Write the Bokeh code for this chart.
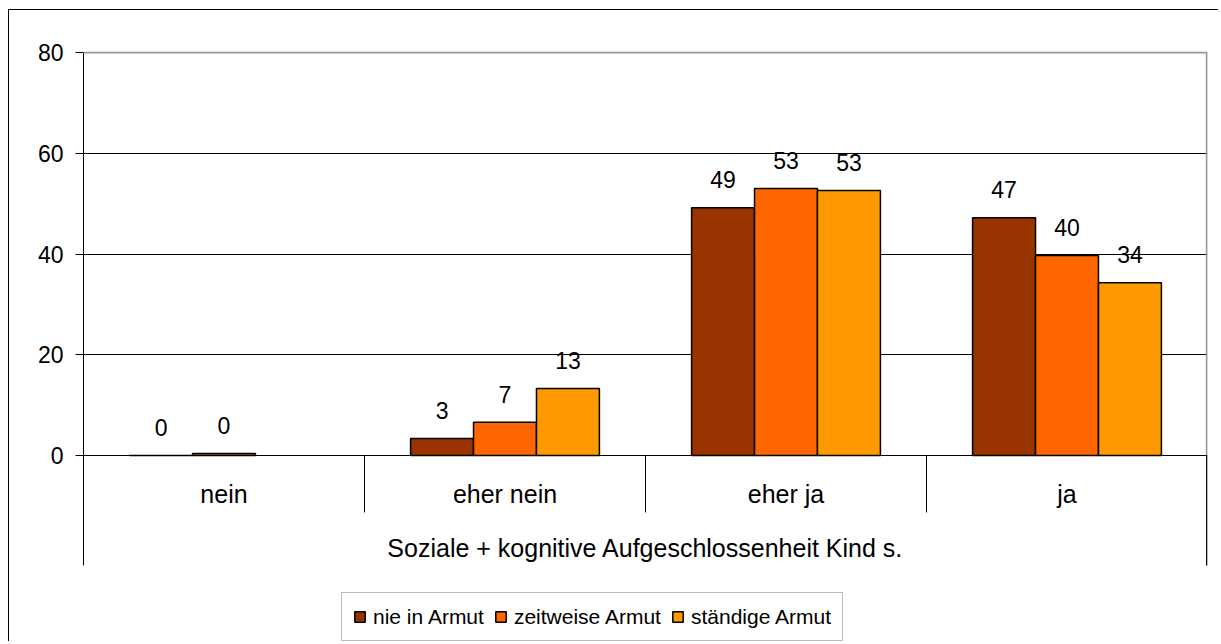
import math
from bokeh.plotting import figure
from bokeh.models import (ColumnDataSource, FactorRange, Range1d, FixedTicker,
                          Legend, LegendItem, Span)
from bokeh.transform import dodge
from bokeh.core.properties import value
from bokeh.embed import file_html
from bokeh.resources import INLINE

# ---- data ----
categories = ["nein", "eher nein", "eher ja", "ja"]
series_names = ["nie in Armut", "zeitweise Armut", "ständige Armut"]
nie_in_armut = [0.0, 3.4, 49.2, 47.2]
zeitweise_armut = [0.4, 6.6, 53.0, 39.7]
staendige_armut = [float("nan"), 13.3, 52.6, 34.3]
series_colors = ["#993300", "#FF6600", "#FF9900"]
y_ticks = [0, 20, 40, 60, 80]
axis_title = "Soziale + kognitive Aufgeschlossenheit Kind s."

FONT = "Liberation Sans"
Y_MIN = -37.12
Y_TABLE = -21.84
Y_MAX = 80.2

p = figure(x_range=FactorRange(factors=categories, range_padding=0, factor_padding=0),
           y_range=Range1d(Y_MIN, Y_MAX),
           width=1210, height=632, output_backend="svg", toolbar_location=None,
           min_border_left=74, min_border_right=12, min_border_top=41, min_border_bottom=0)
p.margin = (9, 0, 0, 8)
p.styles = {"border-left": "1px solid black", "border-top": "1px solid black"}
p.outline_line_color = None
p.background_fill_color = "white"
p.border_fill_color = "white"

p.xaxis.visible = False
p.xgrid.visible = False
p.ygrid.ticker = FixedTicker(ticks=[0, 20, 40, 60])
p.ygrid.grid_line_color = "black"
p.ygrid.grid_line_width = 1

yax = p.yaxis[0]
yax.ticker = FixedTicker(ticks=y_ticks)
yax.bounds = (Y_TABLE, 80)
yax.major_tick_out = 8
yax.major_tick_in = 0
yax.minor_tick_line_color = None
yax.axis_line_color = "black"
yax.major_tick_line_color = "black"
yax.major_label_text_font = FONT
yax.major_label_text_font_size = "23px"
yax.major_label_text_color = "black"
yax.major_label_standoff = 12

# gray plot-area border: top line
p.add_layout(Span(location=80, dimension="width", line_color="#999999", line_width=2))

# bars
all_series = [nie_in_armut, zeitweise_armut, staendige_armut]
offsets = [-0.224, 0.0, 0.224]
bar_w = 0.224
renderers = []
for vals, off, col in zip(all_series, offsets, series_colors):
    labels = ["" if (isinstance(v, float) and math.isnan(v)) else f"{round(v):.0f}" for v in vals]
    src = ColumnDataSource(dict(cat=categories, val=vals, lbl=labels))
    r = p.vbar(x=dodge("cat", off, range=p.x_range), top="val", bottom=0, width=bar_w,
               source=src, fill_color=col, line_color="black", line_width=1.5)
    renderers.append(r)
    p.text(x=dodge("cat", off, range=p.x_range), y="val", text="lbl", source=src,
           text_align="center", text_baseline="middle", y_offset=-28,
           text_font=value(FONT), text_font_size="23px", text_color="black")

# right edge: gray along the plot area, black along the category table
edge_src = ColumnDataSource(dict(cat=[categories[-1]] * 2, y0=[80, 0], y1=[0, Y_TABLE],
                                 c=["#999999", "black"], w=[2, 1.5]))
p.segment(x0=dodge("cat", 0.4975, range=p.x_range), x1=dodge("cat", 0.4975, range=p.x_range),
          y0="y0", y1="y1", source=edge_src, line_color="c", line_width="w")

# category table below the axis
sep_src = ColumnDataSource(dict(cat=categories[1:], y0=[0] * 3, y1=[-11.3] * 3))
p.segment(x0=dodge("cat", -0.5, range=p.x_range), x1=dodge("cat", -0.5, range=p.x_range),
          y0="y0", y1="y1", source=sep_src, line_color="black", line_width=1)

cat_src = ColumnDataSource(dict(cat=categories, y=[-7.6] * len(categories)))
p.text(x="cat", y="y", text="cat", source=cat_src, text_align="center",
       text_baseline="middle", text_font=value(FONT), text_font_size="25px", text_color="black")

title_src = ColumnDataSource(dict(cat=["eher ja"], y=[-18.3], t=[axis_title]))
p.text(x=dodge("cat", -0.5, range=p.x_range), y="y", text="t", source=title_src,
       text_align="center", text_baseline="middle", text_font=value(FONT),
       text_font_size="25px", text_color="black")

legend = Legend(items=[LegendItem(label=n, renderers=[r]) for n, r in zip(series_names, renderers)],
                orientation="horizontal", location=(258, 1), margin=0, padding=11, spacing=10,
                label_standoff=7, glyph_width=13, glyph_height=13, label_height=25,
                label_text_font=FONT, label_text_font_size="21px", label_text_color="black",
                border_line_color="#777777", border_line_width=1,
                background_fill_color="white", background_fill_alpha=1)
p.add_layout(legend, "center")

open("out.html", "w").write(file_html(p, INLINE))
